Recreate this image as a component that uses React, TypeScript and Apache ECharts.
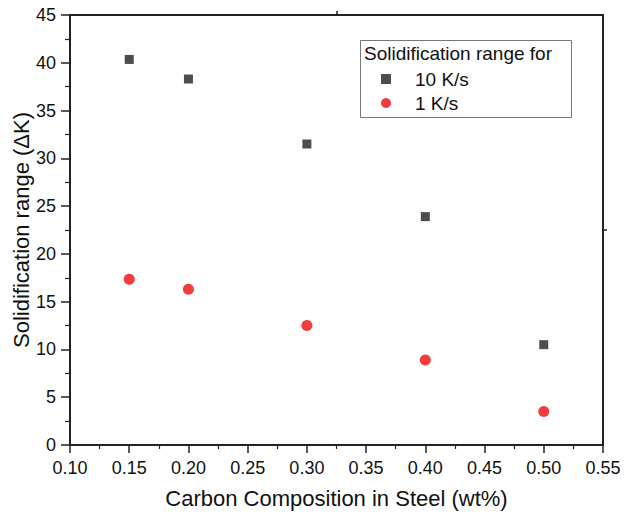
import React, { useEffect, useRef } from "react";
import * as echarts from "echarts";

const carbon = [0.15, 0.2, 0.3, 0.4, 0.5];
const range10 = [40.35, 38.3, 31.5, 23.9, 10.5];
const range1 = [17.35, 16.3, 12.5, 8.9, 3.5];
const seriesNames = ["10 K/s", "1 K/s"];
const legendTitle = "Solidification range for";

export default function App() {
  const ref = useRef<HTMLDivElement>(null);
  useEffect(() => {
    if (!ref.current) return;
    const chart = echarts.init(ref.current, null, { renderer: "svg" });
    const font = "Liberation Sans, Arial, sans-serif";
    const axisColor = "#222";
    chart.setOption({
      animation: false,
      textStyle: { fontFamily: font },
      grid: {
        left: 70,
        top: 15,
        width: 533,
        height: 430,
        outerBoundsMode: "none",
        containLabel: false,
        show: true,
        borderColor: axisColor,
        borderWidth: 2,
        backgroundColor: "transparent",
      },
      legend: {
        orient: "vertical",
        left: 381,
        top: 69,
        itemWidth: 10,
        itemHeight: 10,
        itemGap: 4,
        padding: 0,
        z: 5,
        textStyle: {
          fontSize: 19,
          lineHeight: 20,
          color: "#111",
          fontFamily: font,
          padding: [0, 0, 0, 19],
        },
        data: [
          { name: seriesNames[0], icon: "rect" },
          { name: seriesNames[1], icon: "circle" },
        ],
      },
      graphic: [
        {
          type: "rect",
          left: 360,
          top: 40,
          z: 3,
          shape: { width: 211, height: 77 },
          style: { fill: "#fff", stroke: "#777", lineWidth: 1 },
        },
        {
          type: "text",
          left: 364,
          top: 44,
          z: 6,
          style: { text: legendTitle, fontSize: 19, fill: "#111", fontFamily: font },
        },
        {
          type: "line",
          z: 6,
          shape: { x1: 337, y1: 15, x2: 337, y2: 11 },
          style: { stroke: axisColor, lineWidth: 1.5 },
        },
        {
          type: "line",
          z: 6,
          shape: { x1: 603, y1: 230, x2: 607, y2: 230 },
          style: { stroke: axisColor, lineWidth: 1.5 },
        },
      ],
      xAxis: {
        type: "value",
        min: 0.1,
        max: 0.55,
        interval: 0.05,
        name: "Carbon Composition in Steel (wt%)",
        nameLocation: "middle",
        nameGap: 42,
        nameMoveOverlap: false,
        nameTextStyle: { fontSize: 22, color: "#111", fontFamily: font },
        axisLine: { show: true, lineStyle: { color: axisColor, width: 2 } },
        axisTick: { show: true, length: 8, lineStyle: { color: axisColor, width: 1.5 } },
        minorTick: { show: true, splitNumber: 2, length: 4, lineStyle: { color: axisColor, width: 1.2 } },
        splitLine: { show: false },
        axisLabel: {
          fontSize: 18,
          color: "#111",
          margin: 14,
          fontFamily: font,
          formatter: (v: number) => v.toFixed(2),
        },
      },
      yAxis: {
        type: "value",
        min: 0,
        max: 45,
        interval: 5,
        name: "Solidification range (\u0394K)",
        nameLocation: "middle",
        nameGap: 38,
        nameMoveOverlap: false,
        nameTextStyle: { fontSize: 22, color: "#111", fontFamily: font },
        axisLine: { show: true, lineStyle: { color: axisColor, width: 2 } },
        axisTick: { show: true, length: 9, lineStyle: { color: axisColor, width: 1.5 } },
        minorTick: { show: true, splitNumber: 2, length: 5, lineStyle: { color: axisColor, width: 1.2 } },
        splitLine: { show: false },
        axisLabel: { fontSize: 18, color: "#111", margin: 14, fontFamily: font },
      },
      series: [
        {
          name: seriesNames[0],
          type: "scatter",
          symbol: "rect",
          symbolSize: 9,
          itemStyle: { color: "#4d4d4d", opacity: 1 },
          data: carbon.map((c, i) => [c, range10[i]]),
        },
        {
          name: seriesNames[1],
          type: "scatter",
          symbol: "circle",
          symbolSize: 11,
          itemStyle: { color: "#f43b3b", opacity: 1 },
          data: carbon.map((c, i) => [c, range1[i]]),
        },
      ],
    });
    return () => chart.dispose();
  }, []);
  return (
    <div
      ref={ref}
      style={{ position: "fixed", left: 0, top: 0, width: 624, height: 514, background: "#fff" }}
    />
  );
}
